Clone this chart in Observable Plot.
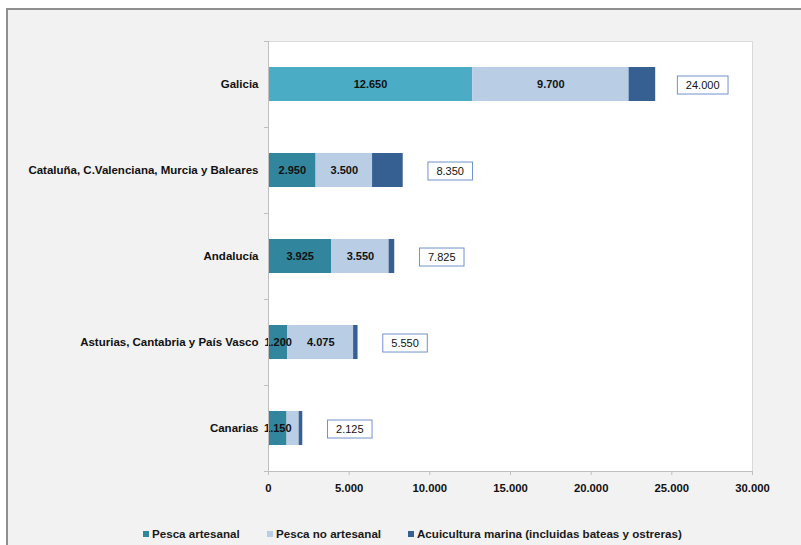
<!DOCTYPE html>
<html><head><meta charset="utf-8">
<script src="https://cdn.jsdelivr.net/npm/d3@7"></script>
<script src="https://cdn.jsdelivr.net/npm/@observablehq/plot@0.6"></script>
<style>
html,body{margin:0;padding:0;background:#fff;width:801px;height:545px;overflow:hidden;font-family:"Liberation Sans",Arial,sans-serif;}
#frame{position:absolute;left:6px;top:8px;width:820px;height:560px;background:#f2f2f2;border-left:2px solid #8f8f8f;border-top:2px solid #8f8f8f;box-sizing:border-box;}
#chart{position:absolute;left:0;top:0;}
#legend{position:absolute;top:527px;left:0;width:801px;font:bold 11.6px "Liberation Sans",Arial,sans-serif;color:#1a1a1a;}
#legend span.item{position:absolute;white-space:nowrap;display:flex;align-items:center;line-height:14px;}
#legend i{display:inline-block;width:6px;height:6px;margin-right:3px;}
</style></head>
<body>
<div id="frame"></div>
<div id="chart"></div>
<div id="legend"></div>
<script>
const regions = ["Galicia","Cataluña, C.Valenciana, Murcia y Baleares","Andalucía","Asturias, Cantabria y País Vasco","Canarias"];
const series = ["Pesca artesanal","Pesca no artesanal","Acuicultura marina (incluidas bateas y ostreras)"];
const artesanal = [12650, 2950, 3925, 1200, 1150];
const noArtesanal = [9700, 3500, 3550, 4075, 750];
const acuicultura = [1650, 1900, 350, 275, 225];
const totals = [24000, 8350, 7825, 5550, 2125];
const showLabel = [[true,true,true,true,true],[true,true,true,true,false],[false,false,false,false,false]];
const xTicks = [0,5000,10000,15000,20000,25000,30000];
const colors = ["#31859c","#b9cde5","#376092"];
const galiciaArtesanalColor = "#4bacc6";

const fmt = v => d3.format(",")(v).replace(/,/g,".");
const values = [artesanal, noArtesanal, acuicultura];
const data = [];
regions.forEach((r,i)=>{
  let start = 0;
  series.forEach((s,k)=>{
    const v = values[k][i];
    data.push({region:r, series:s, value:v, x1:start, x2:start+v, label: showLabel[k][i], fill: (k===0 && i===0) ? galiciaArtesanalColor : colors[k]});
    start += v;
  });
});
const totalData = regions.map((r,i)=>({region:r, total:totals[i]}));

const plot = Plot.plot({
  width: 801, height: 545,
  marginLeft: 268, marginRight: 49, marginTop: 41, marginBottom: 74,
  style: {background:"transparent", fontFamily:"'Liberation Sans', Arial, sans-serif"},
  x: {domain:[0,30000], ticks: xTicks},
  y: {domain: regions, paddingInner: 0.6, paddingOuter: 0.3},
  marks: [
    Plot.frame({fill:"white", stroke:"#d9d9d9"}),
    Plot.barX(data, {y:"region", x1:"x1", x2:"x2", fill:"fill"}),
    Plot.text(data.filter(d=>d.label), {y:"region", x: d=>(d.x1+d.x2)/2, text: d=>fmt(d.value), fill:"#111", fontWeight:"bold", fontSize:11}),
    Plot.text(totalData, {y:"region", x:"total", text: d=>fmt(d.total), dx: 47, dy: 1, fill:"#111", fontSize:11, className:"totals"}),
    Plot.ruleX([0], {stroke:"#bfbfbf"}),
    Plot.frame({anchor:"bottom", stroke:"#bfbfbf"}),
    Plot.axisX({ticks: xTicks, tickSize:4, tickPadding:8, stroke:"#bfbfbf", tickFormat: fmt, fill:"#111", fontWeight:"bold", fontSize:11.3}),
    Plot.axisY({tickSize:0, tickPadding:10, fill:"#111", fontWeight:"bold", fontSize:11.5, label:null}),
    Plot.axisY({tickSize:4, text:null, dy:-43, stroke:"#bfbfbf", label:null}),
    Plot.axisY({tickSize:4, text:null, dy:43, stroke:"#bfbfbf", label:null})
  ]
});
document.getElementById("chart").appendChild(plot);

// white boxes behind total labels
d3.select(plot).selectAll("g.totals text").each(function(){
  const b = this.getBBox();
  const t = this.getAttribute("transform");
  const rect = document.createElementNS("http://www.w3.org/2000/svg","rect");
  rect.setAttribute("x", b.x - 8.5); rect.setAttribute("y", b.y - 3);
  rect.setAttribute("width", b.width + 17); rect.setAttribute("height", b.height + 6);
  rect.setAttribute("fill","white"); rect.setAttribute("stroke","#6f93c9"); rect.setAttribute("stroke-width","1");
  if (t) rect.setAttribute("transform", t);
  this.parentNode.insertBefore(rect, this);
});

// legend
const lg = document.getElementById("legend");
const legendLeft = [143, 267, 408];
series.forEach((s,k)=>{
  const el = document.createElement("span");
  el.className = "item";
  el.style.left = legendLeft[k] + "px";
  el.innerHTML = `<i style="background:${colors[k]}"></i>${s}`;
  lg.appendChild(el);
});
</script>
</body></html>
